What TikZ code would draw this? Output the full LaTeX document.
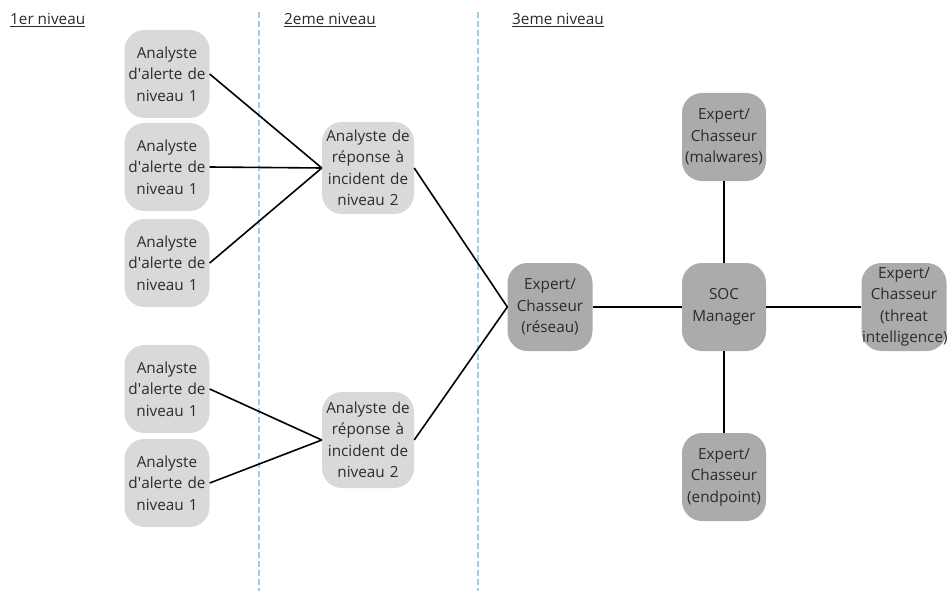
\documentclass[tikz,border=0pt]{standalone}
\usepackage{fontspec}
\setmainfont{Open Sans}
\begin{document}
\begin{tikzpicture}[x=1pt,y=-1pt,
  lvlA/.style={rectangle,rounded corners=20pt,fill=boxlight,draw=none,minimum width=85pt,minimum height=88pt,text width=84pt,align=center,font=\fontsize{15.3pt}{21.5pt}\selectfont,text=txt,inner sep=0pt},
  lvlC/.style={lvlA,fill=boxdark},
  conn/.style={draw=black,line width=1.6pt},
  sep/.style={draw=sepblue,line width=1.5pt,dash pattern=on 6pt off 3pt},
  hdr/.style={anchor=west,font=\fontsize{15.3pt}{18pt}\selectfont,text=txt,inner sep=0pt}]
\definecolor{boxlight}{HTML}{D9D9D9}
\definecolor{boxdark}{HTML}{ABABAB}
\definecolor{txt}{HTML}{2B2B2B}
\definecolor{sepblue}{HTML}{9DD0E2}
\useasboundingbox (0,0) rectangle (947,591);
\fill[white] (0,0) rectangle (947,591);
% separators
\coordinate (s1t) at (259,12); \coordinate (s1b) at (259,591);
\coordinate (s2t) at (478,12); \coordinate (s2b) at (478,591);
\draw[sep] (s1t) -- (s1b);
\draw[sep] (s2t) -- (s2b);
% headers
\node[hdr] (h1) at (10,20) {\underline{1er niveau}};
\node[hdr] (h2) at (284,20) {\underline{2eme niveau}};
\node[hdr] (h3) at (512,20) {\underline{3eme niveau}};
% level 1
\node[lvlA] (a1) at (167,74) {Analyste d\textquotesingle alerte de niveau 1};
\node[lvlA] (a2) at (167,167) {Analyste d\textquotesingle alerte de niveau 1};
\node[lvlA] (a3) at (167,263) {Analyste d\textquotesingle alerte de niveau 1};
\node[lvlA] (a4) at (167,389) {Analyste d\textquotesingle alerte de niveau 1};
\node[lvlA] (a5) at (167,483) {Analyste d\textquotesingle alerte de niveau 1};
% level 2
\node[lvlA,minimum width=91pt,minimum height=92pt,text width=92pt] (b1) at (368,168) {Analyste de\\réponse à\\incident de\\niveau 2};
\node[lvlA,minimum width=91pt,minimum height=96pt,text width=92pt] (b2) at (368,440) {Analyste de\\réponse à\\incident de\\niveau 2};
% level 3
\node[lvlC] (c1) at (550,307) {Expert/\\Chasseur\\(réseau)};
\node[lvlC,minimum width=82pt] (soc) at (724,307) {SOC\\Manager};
\node[lvlC,minimum width=82pt] (mal) at (724,137) {Expert/\\Chasseur\\(malwares)};
\node[lvlC,minimum width=82pt] (endp) at (724,477) {Expert/\\Chasseur\\(endpoint)};
\node[lvlC] (thr) at (904,307) {Expert/\\Chasseur\\(threat\\intelligence)};
% connectors
\draw[conn] (a1.east) -- (b1.west);
\draw[conn] (a2.east) -- (b1.west);
\draw[conn] (a3.east) -- (b1.west);
\draw[conn] (a4.east) -- (b2.west);
\draw[conn] (a5.east) -- (b2.west);
\draw[conn] (b1.east) -- (c1.west);
\draw[conn] (b2.east) -- (c1.west);
\draw[conn] (c1.east) -- (soc.west);
\draw[conn] (soc.north) -- (mal.south);
\draw[conn] (soc.south) -- (endp.north);
\draw[conn] (soc.east) -- (thr.west);
\end{tikzpicture}
\end{document}
